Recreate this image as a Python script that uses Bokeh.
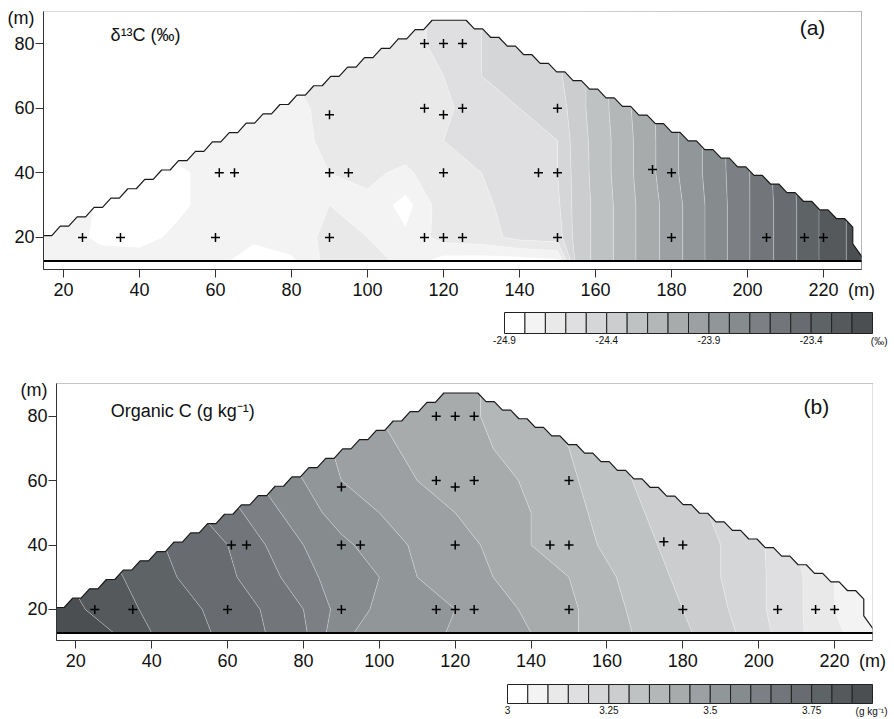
import numpy as np
from bokeh.plotting import figure
from bokeh.models import Range1d, FixedTicker, Label
from bokeh.layouts import column, row
from bokeh.embed import file_html
from bokeh.resources import INLINE
from bokeh.core.properties import value

FONT = "Liberation Sans"

# ---------------- data ----------------
# sampling sites (m)
SITE_X = [115, 120, 125,
          90, 115, 120, 125, 150,
          61, 65, 90, 95, 120, 145, 150, 175, 180,
          25, 35, 60, 90, 115, 120, 125, 150, 180, 205, 215, 220]
SITE_Y = [80, 80, 80,
          58, 60, 58, 60, 60,
          40, 40, 40, 40, 40, 40, 40, 41, 40,
          20, 20, 20, 20, 20, 20, 20, 20, 20, 20, 20, 20]

# outline of the surveyed slope (m)
EDGE_X = [14.7, 117.0, 123.8, 227.7, 227.7, 230.5]
EDGE_Y = [20.6, 87.2, 87.2, 23.2, 18.0, 13.4]
EDGE_STEPPED = [True, False, True, False, False]
BASE_Y = 12.7

# grid
GRID_X = [14, 20, 30, 40, 50, 60, 70, 80, 90, 100, 110, 120, 130, 140, 150,
          155, 160, 170, 180, 190, 200, 210, 220, 232]
GRID_Y = [12.7, 20, 30, 40, 50, 60, 70, 80, 90]

# delta 13C (permil), one list per grid row
D13C_Y13 = [-24.75, -24.75, -24.76, -24.76, -24.76, -24.77, -24.85, -24.82, -24.66, -24.64, -24.74, -24.84, -24.85, -24.85, -24.82,
            -24.36, -24.28, -24.11, -23.95, -23.78, -23.61, -23.45, -23.28, -23.12]
D13C_Y20 = [-24.75, -24.76, -24.82, -24.83, -24.78, -24.75, -24.78, -24.74, -24.68, -24.70, -24.78, -24.66, -24.64, -24.57, -24.55,
            -24.36, -24.28, -24.11, -23.95, -23.78, -23.61, -23.45, -23.28, -23.12]
D13C_Y30 = [-24.75, -24.76, -24.81, -24.83, -24.82, -24.76, -24.75, -24.75, -24.70, -24.72, -24.84, -24.64, -24.62, -24.56, -24.52,
            -24.36, -24.28, -24.11, -23.95, -23.78, -23.61, -23.45, -23.28, -23.12]
D13C_Y40 = [-24.75, -24.75, -24.76, -24.78, -24.82, -24.76, -24.75, -24.74, -24.70, -24.68, -24.72, -24.63, -24.60, -24.55, -24.50,
            -24.36, -24.27, -24.10, -23.93, -23.77, -23.61, -23.44, -23.28, -23.12]
D13C_Y50 = [-24.75, -24.75, -24.75, -24.75, -24.75, -24.74, -24.74, -24.73, -24.68, -24.65, -24.64, -24.60, -24.56, -24.54, -24.50,
            -24.35, -24.27, -24.10, -23.93, -23.77, -23.60, -23.44, -23.28, -23.12]
D13C_Y60 = [-24.75, -24.75, -24.75, -24.75, -24.75, -24.74, -24.72, -24.72, -24.68, -24.66, -24.66, -24.62, -24.55, -24.50, -24.46,
            -24.34, -24.26, -24.09, -23.93, -23.76, -23.60, -23.44, -23.28, -23.12]
D13C_Y70 = [-24.75, -24.75, -24.75, -24.75, -24.75, -24.73, -24.72, -24.70, -24.68, -24.66, -24.65, -24.60, -24.50, -24.46, -24.42,
            -24.34, -24.26, -24.09, -23.93, -23.76, -23.60, -23.44, -23.28, -23.12]
D13C_Y80 = [-24.75, -24.75, -24.75, -24.75, -24.75, -24.73, -24.72, -24.70, -24.68, -24.66, -24.66, -24.55, -24.50, -24.46, -24.42,
            -24.34, -24.26, -24.09, -23.93, -23.76, -23.60, -23.44, -23.28, -23.12]
D13C_Y90 = [-24.75, -24.75, -24.75, -24.75, -24.75, -24.73, -24.72, -24.70, -24.68, -24.66, -24.66, -24.55, -24.50, -24.46, -24.42,
            -24.34, -24.26, -24.09, -23.93, -23.76, -23.60, -23.44, -23.28, -23.12]

# organic C (g/kg), one list per grid row
OC_Y13 = [3.88, 3.87, 3.85, 3.80, 3.77, 3.735, 3.70, 3.66, 3.56, 3.53, 3.53, 3.49, 3.47, 3.45, 3.41,
          3.39, 3.37, 3.34, 3.31, 3.27, 3.22, 3.16, 3.11, 3.06]
OC_Y20 = [3.88, 3.86, 3.82, 3.79, 3.76, 3.73, 3.695, 3.65, 3.58, 3.54, 3.52, 3.50, 3.47, 3.44, 3.41,
          3.39, 3.37, 3.33, 3.30, 3.26, 3.21, 3.16, 3.10, 3.05]
OC_Y30 = [3.85, 3.84, 3.81, 3.77, 3.74, 3.71, 3.67, 3.62, 3.57, 3.55, 3.50, 3.48, 3.45, 3.43, 3.40,
          3.38, 3.36, 3.32, 3.29, 3.25, 3.21, 3.16, 3.10, 3.05]
OC_Y40 = [3.82, 3.81, 3.79, 3.76, 3.73, 3.70, 3.65, 3.60, 3.56, 3.53, 3.49, 3.47, 3.44, 3.40, 3.37,
          3.36, 3.34, 3.31, 3.28, 3.25, 3.21, 3.15, 3.10, 3.05]
OC_Y50 = [3.80, 3.79, 3.77, 3.74, 3.71, 3.67, 3.62, 3.57, 3.53, 3.50, 3.47, 3.45, 3.43, 3.40, 3.37,
          3.35, 3.33, 3.30, 3.27, 3.24, 3.20, 3.15, 3.10, 3.05]
OC_Y60 = [3.78, 3.77, 3.75, 3.72, 3.69, 3.64, 3.59, 3.55, 3.50, 3.47, 3.45, 3.44, 3.42, 3.39, 3.36,
          3.34, 3.32, 3.29, 3.26, 3.23, 3.19, 3.15, 3.10, 3.05]
OC_Y70 = [3.76, 3.75, 3.73, 3.70, 3.67, 3.62, 3.57, 3.53, 3.49, 3.46, 3.44, 3.43, 3.40, 3.37, 3.35,
          3.33, 3.31, 3.28, 3.25, 3.22, 3.19, 3.15, 3.10, 3.05]
OC_Y80 = [3.74, 3.73, 3.71, 3.68, 3.65, 3.60, 3.55, 3.51, 3.48, 3.45, 3.44, 3.42, 3.39, 3.36, 3.34,
          3.32, 3.30, 3.27, 3.24, 3.21, 3.18, 3.14, 3.10, 3.05]
OC_Y90 = [3.73, 3.72, 3.70, 3.67, 3.64, 3.59, 3.54, 3.50, 3.47, 3.45, 3.44, 3.42, 3.39, 3.36, 3.34,
          3.32, 3.30, 3.27, 3.24, 3.21, 3.18, 3.14, 3.10, 3.05]

# class breaks, ticks and legend labels
LEVELS_A = [round(v, 2) for v in np.linspace(-24.9, -23.1, 19)]
LEVELS_B = [round(v, 3) for v in np.linspace(3.0, 3.9, 19)]
LEG_A_VALS = [-24.9, -24.4, -23.9, -23.4]
LEG_A_TEXT = ["-24.9", "-24.4", "-23.9", "-23.4"]
LEG_B_VALS = [3.0, 3.25, 3.5, 3.75]
LEG_B_TEXT = ["3", "3.25", "3.5", "3.75"]
X_TICKS = [20, 40, 60, 80, 100, 120, 140, 160, 180, 200, 220]
Y_TICKS = [20, 40, 60, 80]
X_UNIT_AT = 230
Y_UNIT_AT = 88

PALETTE = ["#ffffff", "#f3f3f4", "#e9e9ea", "#dfdfe1", "#d5d6d8", "#cbcdcf",
           "#bfc2c3", "#b3b7b7", "#a7abac", "#9ca0a2", "#919698", "#868b8d",
           "#7c8084", "#72767a", "#686c70", "#5e6366", "#55595c", "#4b4f52"]

CANVAS_W = 894


def outline():
    xs, ys = [], []
    for i, stepped in enumerate(EDGE_STEPPED):
        x0, y0, x1, y1 = EDGE_X[i], EDGE_Y[i], EDGE_X[i + 1], EDGE_Y[i + 1]
        n = max(1, int(round(abs(x1 - x0) / 4.4))) if stepped else 1
        for k in range(n):
            xa = x0 + (x1 - x0) * k / n
            ya = y0 + (y1 - y0) * k / n
            xs.append(xa); ys.append(ya)
            if stepped:
                xs.append(x0 + (x1 - x0) * (k + 0.5) / n); ys.append(ya)
    xs.append(EDGE_X[-1]); ys.append(EDGE_Y[-1])
    return xs, ys


def panel(z, levels, fw, fh, bl, br, bt, bb, xr, yr, tag, tag_xy, title, title_xy):
    p = figure(frame_width=fw, frame_height=fh, x_range=Range1d(*xr), y_range=Range1d(*yr),
               min_border_left=bl, min_border_right=br, min_border_top=bt, min_border_bottom=bb,
               output_backend="svg", toolbar_location=None)
    p.grid.visible = False
    p.outline_line_color = "#8a8a8a"
    p.contour(x=GRID_X, y=GRID_Y, z=np.array(z), levels=levels, fill_color=PALETTE,
              line_color="white", line_alpha=0.45, line_width=0.7)
    ex, ey = outline()
    mx = [ex[0] - 8] + ex + [ex[-1] + 8, ex[-1] + 8, ex[0] - 8]
    my = [ey[0]] + ey + [ey[-1], 100, 100]
    p.patch(mx, my, fill_color="white", line_color=None)
    p.line(ex, ey, line_color="#1a1a1a", line_width=1.2)
    p.line([xr[0] - 5, xr[1] + 5], [BASE_Y, BASE_Y], line_color="black", line_width=2)
    p.scatter(SITE_X, SITE_Y, marker="cross", size=9, line_color="black", line_width=1.5)

    p.xaxis.ticker = FixedTicker(ticks=X_TICKS + [X_UNIT_AT], minor_ticks=X_TICKS)
    p.xaxis.major_label_overrides = {X_UNIT_AT: "(m)"}
    p.yaxis.ticker = FixedTicker(ticks=Y_TICKS + [Y_UNIT_AT], minor_ticks=Y_TICKS)
    p.yaxis.major_label_overrides = {Y_UNIT_AT: "(m)"}
    for ax in (p.xaxis[0], p.yaxis[0]):
        ax.axis_label = None
        ax.axis_label_standoff = 0
        ax.major_label_text_font = FONT
        ax.major_label_text_font_size = "18px"
        ax.major_label_text_color = "#111111"
        ax.axis_line_color = "#333333"
        ax.major_tick_line_color = None
        ax.major_tick_in = 0
        ax.major_tick_out = 8
        ax.minor_tick_line_color = "#333333"
        ax.minor_tick_in = 0
        ax.minor_tick_out = 8
    p.xaxis.major_label_standoff = 2
    p.yaxis.major_label_standoff = 1

    for txt, (x, y), size, align in ((tag, tag_xy, "21px", "center"),
                                     (title, title_xy, "18px", "left")):
        p.add_layout(Label(x=x, y=y, text=txt, text_font=FONT, text_font_size=size,
                           text_color="#111111", text_align=align, text_baseline="middle"))
    return p


def legend(levels, vals, texts, unit, px_left, px_right, height, box_top, box_h):
    scale = (px_right - px_left) / (levels[-1] - levels[0])
    lo = levels[0] - px_left / scale
    hi = lo + CANVAS_W / scale
    p = figure(width=CANVAS_W, height=height, x_range=Range1d(lo, hi), y_range=Range1d(height, 0),
               x_axis_location=None, y_axis_location=None, min_border=0,
               min_border_left=0, min_border_right=0, min_border_top=0, min_border_bottom=0,
               output_backend="svg", toolbar_location=None)
    p.grid.visible = False
    p.outline_line_color = None
    p.quad(left=levels[:-1], right=levels[1:], top=box_top, bottom=box_top + box_h,
           fill_color=PALETTE, line_color="#222222", line_width=1)
    p.text(x=vals, y=[box_top + box_h + 2] * len(vals), text=texts, text_font=value(FONT),
           text_font_size="10px", text_color="#111111", text_align="center", text_baseline="top")
    p.text(x=[levels[-1]], y=[box_top + box_h + 2], text=[unit], x_offset=15, text_font=value(FONT),
           text_font_size="10px", text_color="#111111", text_align="right", text_baseline="top")
    return p


Z_A = [D13C_Y13, D13C_Y20, D13C_Y30, D13C_Y40, D13C_Y50, D13C_Y60, D13C_Y70, D13C_Y80, D13C_Y90]
Z_B = [OC_Y13, OC_Y20, OC_Y30, OC_Y40, OC_Y50, OC_Y60, OC_Y70, OC_Y80, OC_Y90]

pa = panel(Z_A, LEVELS_A, 818, 258, 43, 33, 11, 36, (14.74, 230.0), (10.1, 89.9),
           "(a)", (217.1, 84.9), "δ¹³C (‰)", (32.4, 82.5))
la = legend(LEVELS_A, LEG_A_VALS, LEG_A_TEXT, "(‰)", 504, 872, 45, 7, 21)
pb = panel(Z_B, LEVELS_B, 816, 257, 56, 22, 33, 36, (14.9, 230.0), (10.35, 90.15),
           "(b)", (215.2, 83.0), "Organic C (g kg⁻¹)", (29.2, 81.5))
lb = legend(LEVELS_B, LEG_B_VALS, LEG_B_TEXT, "(g kg⁻¹)", 507, 872, 43, 8, 19)

layout = column(row(pa), row(la), row(pb), row(lb), spacing=0)
open("out.html", "w").write(file_html(layout, INLINE))
